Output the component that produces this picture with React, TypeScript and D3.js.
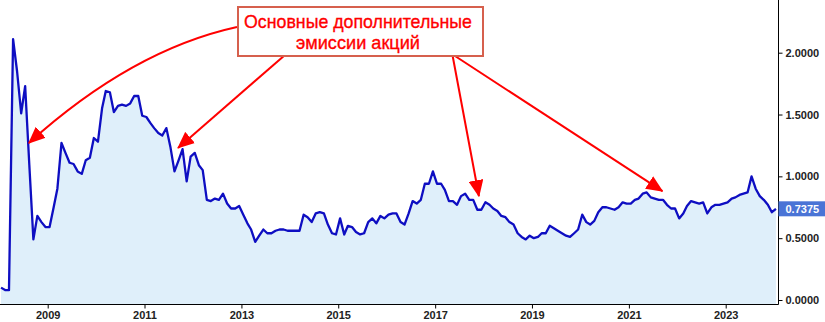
import React, { useEffect, useRef } from "react";
import * as d3 from "d3";

// Monthly values, starting mid-January 2008
const START_MONTH = "2008-01-15";
const values: number[] = [
  0.10, 0.08, 0.08, 2.11, 1.85, 1.51, 1.73, 1.10, 0.49, 0.68,
  0.63, 0.59, 0.59, 0.75, 0.90, 1.27, 1.19, 1.11, 1.10, 1.04,
  1.02, 1.13, 1.15, 1.31, 1.28, 1.55, 1.69, 1.68, 1.52, 1.57,
  1.58, 1.57, 1.59, 1.65, 1.65, 1.49, 1.48, 1.43, 1.39, 1.35,
  1.33, 1.39, 1.24, 1.04, 1.13, 1.22, 0.96, 1.16, 1.19, 1.09,
  1.05, 0.81, 0.80, 0.82, 0.81, 0.86, 0.78, 0.74, 0.74, 0.76,
  0.69, 0.62, 0.57, 0.47, 0.52, 0.57, 0.54, 0.54, 0.56, 0.57,
  0.57, 0.56, 0.56, 0.56, 0.56, 0.69, 0.67, 0.63, 0.70, 0.71,
  0.70, 0.61, 0.54, 0.53, 0.66, 0.53, 0.60, 0.59, 0.55, 0.53,
  0.54, 0.63, 0.66, 0.62, 0.68, 0.66, 0.69, 0.70, 0.70, 0.63,
  0.61, 0.70, 0.80, 0.78, 0.81, 0.94, 0.94, 1.04, 0.94, 0.94,
  0.89, 0.80, 0.80, 0.77, 0.84, 0.86, 0.81, 0.81, 0.73, 0.73,
  0.79, 0.77, 0.74, 0.72, 0.68, 0.67, 0.63, 0.61, 0.54, 0.51,
  0.49, 0.52, 0.50, 0.51, 0.54, 0.54, 0.60, 0.58, 0.56, 0.54,
  0.52, 0.51, 0.54, 0.57, 0.69, 0.63, 0.61, 0.64, 0.71, 0.75,
  0.75, 0.74, 0.73, 0.75, 0.79, 0.78, 0.78, 0.81, 0.82, 0.86,
  0.87, 0.83, 0.82, 0.81, 0.81, 0.77, 0.74, 0.74, 0.66, 0.70,
  0.76, 0.80, 0.79, 0.78, 0.79, 0.70, 0.75, 0.77, 0.77, 0.78,
  0.79, 0.82, 0.83, 0.85, 0.86, 0.87, 1.00, 0.90, 0.84, 0.81,
  0.77, 0.71, 0.7375,
];

const yTicks = [0, 0.5, 1, 1.5, 2];
const xTickYears = [2009, 2011, 2013, 2015, 2017, 2019, 2021, 2023];
const lastValue = 0.7375;
const annotationLines = ["Основные дополнительные", "эмиссии акций"];
const arrowTargetDates = ["2008-08-12", "2011-09-11", "2017-11-27", "2021-09-11"];
const arrowTargetValues = [1.27, 1.23, 0.84, 0.88];

const W = 825;
const H = 322;
const PLOT_RIGHT = 778.5;
const PLOT_BOTTOM = 304.5;

export default function App() {
  const ref = useRef<SVGSVGElement>(null);

  useEffect(() => {
    const svg = d3.select(ref.current);
    svg.selectAll("*").remove();

    const start = new Date(START_MONTH + "T00:00:00Z");
    const data = values.map((v, i) => ({ date: d3.utcMonth.offset(start, i), value: v }));

    const x = d3
      .scaleUtc()
      .domain([new Date(Date.UTC(2009, 0, 1)), new Date(Date.UTC(2023, 0, 1))])
      .range([47.7, 725.7]);
    const y = d3.scaleLinear().domain([0, 2]).range([300, 52.7]);

    // area
    const area = d3
      .area<{ date: Date; value: number }>()
      .x((d) => x(d.date))
      .y0(PLOT_BOTTOM)
      .y1((d) => y(d.value));
    svg.append("path").datum(data).attr("d", area).attr("fill", "#dfeffa");

    const line = d3
      .line<{ date: Date; value: number }>()
      .x((d) => x(d.date))
      .y((d) => y(d.value));
    svg
      .append("path")
      .datum(data)
      .attr("d", line)
      .attr("fill", "none")
      .attr("stroke", "#0e0ec2")
      .attr("stroke-width", 2.3)
      .attr("stroke-linejoin", "round");

    const font = "'Liberation Sans', Arial, sans-serif";

    // axes lines
    svg
      .append("line")
      .attr("x1", 0)
      .attr("x2", PLOT_RIGHT)
      .attr("y1", PLOT_BOTTOM)
      .attr("y2", PLOT_BOTTOM)
      .attr("stroke", "#000");
    svg
      .append("line")
      .attr("x1", PLOT_RIGHT)
      .attr("x2", PLOT_RIGHT)
      .attr("y1", 0)
      .attr("y2", PLOT_BOTTOM)
      .attr("stroke", "#000");

    // x axis
    const xAxis = d3
      .axisBottom(x)
      .tickValues(xTickYears.map((yr) => new Date(Date.UTC(yr, 0, 1))))
      .tickFormat((d) => d3.utcFormat("%Y")(d as Date))
      .tickSize(4)
      .tickPadding(3);
    const gx = svg.append("g").attr("transform", `translate(0,${PLOT_BOTTOM})`).call(xAxis);
    gx.select(".domain").remove();
    gx.attr("font-family", font).attr("font-size", 11).attr("font-weight", "bold");
    gx.selectAll("text").attr("fill", "#222");
    gx.selectAll("line").attr("stroke", "#000");

    // y axis (right)
    const yAxis = d3
      .axisRight(y)
      .tickValues(yTicks)
      .tickFormat((d) => d3.format(".4f")(d as number))
      .tickSize(4)
      .tickPadding(3);
    const gy = svg.append("g").attr("transform", `translate(${PLOT_RIGHT},0)`).call(yAxis);
    gy.select(".domain").remove();
    gy.attr("font-family", font).attr("font-size", 11).attr("font-weight", "bold");
    gy.selectAll("text").attr("fill", "#222");
    gy.selectAll("line").attr("stroke", "#000");

    // last value label
    const ly = y(lastValue);
    svg
      .append("rect")
      .attr("x", PLOT_RIGHT)
      .attr("y", ly - 7.5)
      .attr("width", W - PLOT_RIGHT)
      .attr("height", 15)
      .attr("fill", "#4a74d6");
    svg
      .append("text")
      .attr("x", PLOT_RIGHT + 7)
      .attr("y", ly)
      .attr("dy", "0.35em")
      .attr("font-family", font)
      .attr("font-size", 11)
      .attr("font-weight", "bold")
      .attr("fill", "#fff")
      .text(d3.format(".4f")(lastValue));

    // arrows
    const defs = svg.append("defs");
    defs
      .append("marker")
      .attr("id", "ah")
      .attr("markerUnits", "userSpaceOnUse")
      .attr("viewBox", "0 0 16 14")
      .attr("refX", 15)
      .attr("refY", 7)
      .attr("markerWidth", 17)
      .attr("markerHeight", 15)
      .attr("orient", "auto")
      .append("path")
      .attr("d", "M0,0 L16,7 L0,14 Z")
      .attr("fill", "#ff0000");

    const tips = arrowTargetDates.map((ds, i) => [
      x(new Date(ds + "T00:00:00Z")),
      y(arrowTargetValues[i]),
    ]);
    const starts = [
      [237, 27],
      [285, 55],
      [452.5, 55],
      [453.5, 55],
    ];
    // curved first arrow
    const p = d3.path();
    p.moveTo(starts[0][0], starts[0][1]);
    p.quadraticCurveTo(132, 50, tips[0][0], tips[0][1]);
    svg
      .append("path")
      .attr("d", p.toString())
      .attr("fill", "none")
      .attr("stroke", "#ff0000")
      .attr("stroke-width", 2)
      .attr("marker-end", "url(#ah)");
    for (let i = 1; i < 4; i++) {
      svg
        .append("line")
        .attr("x1", starts[i][0])
        .attr("y1", starts[i][1])
        .attr("x2", tips[i][0])
        .attr("y2", tips[i][1])
        .attr("stroke", "#ff0000")
        .attr("stroke-width", 2)
        .attr("marker-end", "url(#ah)");
    }

    // annotation box
    svg
      .append("rect")
      .attr("x", 238)
      .attr("y", 7)
      .attr("width", 245)
      .attr("height", 49)
      .attr("fill", "#fff")
      .attr("stroke", "#d6604d")
      .attr("stroke-width", 2);
    const lineWidths = [228, 124];
    const baselines = [27.5, 48.5];
    annotationLines.forEach((t, i) => {
      svg
        .append("text")
        .attr("x", 358)
        .attr("y", baselines[i])
        .attr("text-anchor", "middle")
        .attr("font-family", font)
        .attr("font-size", 19)
        .attr("fill", "#ff0000")
        .attr("stroke", "#ff0000")
        .attr("stroke-width", 0.35)
        .attr("textLength", lineWidths[i])
        .attr("lengthAdjust", "spacingAndGlyphs")
        .text(t);
    });
  }, []);

  return (
    <svg
      ref={ref}
      width={W}
      height={H}
      style={{ position: "absolute", left: 0, top: 0, background: "#fff" }}
    />
  );
}
